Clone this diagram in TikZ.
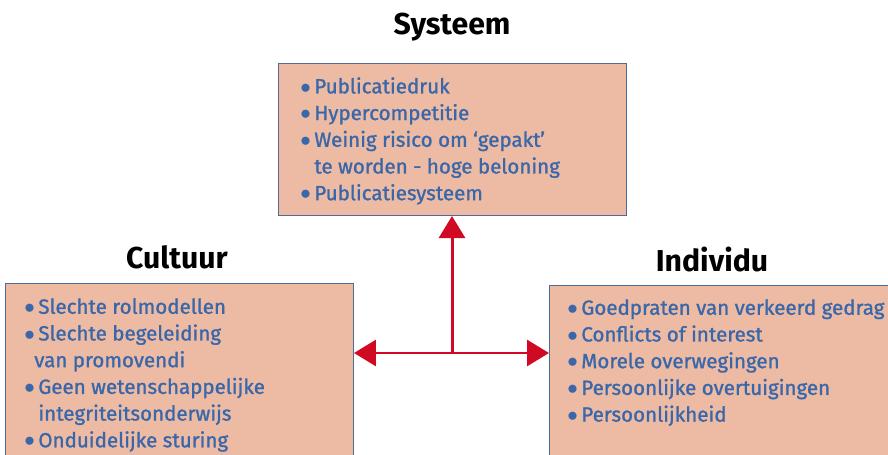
\documentclass[tikz,border=0pt]{standalone}
\usepackage{fontspec}
\setmainfont{Fira Sans}
\newfontfamily\itemfont{Fira Sans}[FakeBold=1.2, Ligatures=TeX]
\usetikzlibrary{arrows.meta}

\definecolor{boxfill}{HTML}{EDBBA4}
\definecolor{boxline}{HTML}{4F6C98}
\definecolor{itemblue}{HTML}{3A67A9}
\definecolor{arrowred}{HTML}{D00A22}

\newcommand{\itm}{\makebox[0.28cm][l]{\raisebox{0.2pt}{$\bullet$}}}
\newcommand{\cont}{\hspace*{0.28cm}}

\tikzset{
  factor/.style={draw=boxline, line width=0.6pt, fill=boxfill, rectangle,
    anchor=north west, inner sep=0pt},
  items/.style={anchor=north west, inner sep=0pt, align=left, text=itemblue,
    font=\itemfont\fontsize{11.7}{15.2}\selectfont},
  heading/.style={font=\fontsize{17.2}{20}\selectfont\bfseries},
  link/.style={draw=arrowred, line width=1.7pt,
    -{Triangle[length=0.44cm, width=0.52cm]}}
}

\begin{document}
\begin{tikzpicture}[x=0.02cm, y=-0.02cm]
\useasboundingbox (0,0) rectangle (888,455);
\clip (0,0) rectangle (888,455);

% Boxes %
\node[factor, minimum width=6.96cm, minimum height=3.04cm] (sys) at (278,63) {};
\node[factor, minimum width=6.96cm, minimum height=4cm] (cul) at (5,283) {};
\node[factor, minimum width=7cm, minimum height=4cm] (ind) at (549,285) {};

% Headings %
\node[heading] (systitle) at (452,27) {Systeem};
\node[heading] (cultitle) at (177,257) {Cultuur};
\node[heading] (indtitle) at (712,260) {Individu};

% Lists %
\node[items] (syslist) at (300,77) {\itm Publicatiedruk\\
  \itm Hypercompetitie\\
  \itm Weinig risico om ‘gepakt’\\
  \cont te worden - hoge beloning\\
  \itm Publicatiesysteem};
\node[items] (cullist) at (24,298) {\itm Slechte rolmodellen\\
  \itm Slechte begeleiding\\
  \hspace*{0.2cm}van promovendi\\
  \itm Geen wetenschappelijke\\
  \cont integriteitsonderwijs\\
  \itm Onduidelijke sturing};
\node[items] (indlist) at (567,299) {\itm Goedpraten van verkeerd gedrag\\
  \itm Conflicts of interest\\
  \itm Morele overwegingen\\
  \itm Persoonlijke overtuigingen\\
  \itm Persoonlijkheid};

% Arrows %
\coordinate (hub) at (452,353);
\draw[link] (hub) -- (hub |- sys.south);
\draw[link] (hub) -- (hub -| cul.east);
\draw[link] (hub) -- (hub -| ind.west);

\end{tikzpicture}
\end{document}
